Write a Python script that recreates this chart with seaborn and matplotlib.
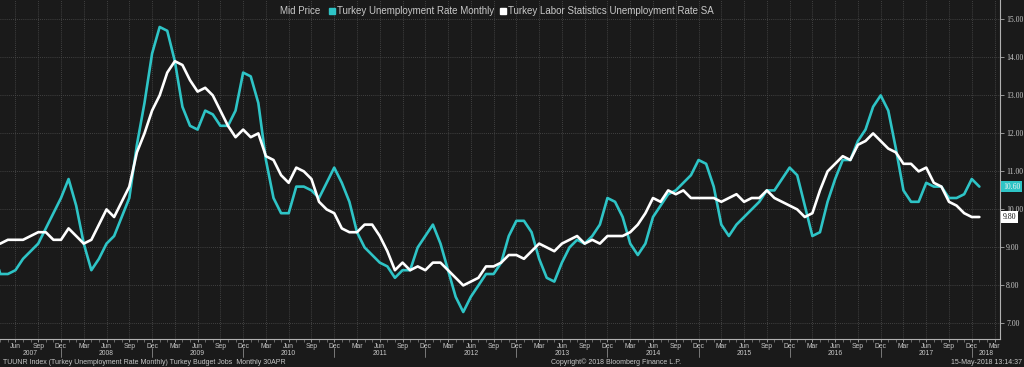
import numpy as np
import pandas as pd
import matplotlib
matplotlib.use("Agg")
import matplotlib.pyplot as plt
import matplotlib.transforms as mtransforms
from matplotlib.lines import Line2D
import seaborn as sns

# ---------------- data ----------------
first_month = "2007-03"
last_month = "2018-02"
series_names = ["Turkey Unemployment Rate Monthly",
                "Turkey Labor Statistics Unemployment Rate SA"]
unemp_monthly = [
    9.0, 8.3, 8.3, 8.4, 8.7, 8.9, 9.1, 9.5, 9.9, 10.3,
    10.8, 10.1, 9.1, 8.4, 8.7, 9.1, 9.3, 9.8, 10.3, 11.7, 12.8, 14.1,
    14.8, 14.7, 13.9, 12.7, 12.2, 12.1, 12.6, 12.5, 12.2, 12.2, 12.6, 13.6,
    13.5, 12.8, 11.3, 10.3, 9.9, 9.9, 10.6, 10.6, 10.5, 10.3, 10.7, 11.1,
    10.7, 10.2, 9.4, 9.0, 8.8, 8.6, 8.5, 8.2, 8.4, 8.4, 9.0, 9.3,
    9.6, 9.1, 8.4, 7.7, 7.3, 7.7, 8.0, 8.3, 8.3, 8.6, 9.3, 9.7,
    9.7, 9.4, 8.7, 8.2, 8.1, 8.6, 9.0, 9.2, 9.1, 9.3, 9.6, 10.3,
    10.2, 9.8, 9.1, 8.8, 9.1, 9.8, 10.1, 10.4, 10.5, 10.7, 10.9, 11.3,
    11.2, 10.6, 9.6, 9.3, 9.6, 9.8, 10.0, 10.2, 10.5, 10.5, 10.8, 11.1,
    10.9, 10.1, 9.3, 9.4, 10.2, 10.8, 11.3, 11.3, 11.8, 12.1, 12.7, 13.0,
    12.6, 11.6, 10.5, 10.2, 10.2, 10.7, 10.6, 10.6, 10.3, 10.3, 10.4, 10.8,
    10.6,
]
unemp_sa = [
    9.1, 9.1, 9.2, 9.2, 9.2, 9.3, 9.4, 9.4, 9.2, 9.2,
    9.5, 9.3, 9.1, 9.2, 9.6, 10.0, 9.8, 10.2, 10.6, 11.5, 12.0, 12.6,
    13.0, 13.6, 13.9, 13.8, 13.4, 13.1, 13.2, 13.0, 12.6, 12.2, 11.9, 12.1,
    11.9, 12.0, 11.4, 11.3, 10.9, 10.7, 11.1, 11.0, 10.8, 10.2, 10.0, 9.9,
    9.5, 9.4, 9.4, 9.6, 9.6, 9.3, 8.9, 8.4, 8.6, 8.4, 8.5, 8.4,
    8.6, 8.6, 8.4, 8.2, 8.0, 8.1, 8.2, 8.5, 8.5, 8.6, 8.8, 8.8,
    8.7, 8.9, 9.1, 9.0, 8.9, 9.1, 9.2, 9.3, 9.1, 9.2, 9.1, 9.3,
    9.3, 9.3, 9.4, 9.6, 9.9, 10.3, 10.2, 10.5, 10.4, 10.5, 10.3, 10.3,
    10.3, 10.3, 10.2, 10.3, 10.4, 10.2, 10.3, 10.3, 10.5, 10.3, 10.2, 10.1,
    10.0, 9.8, 9.9, 10.5, 11.0, 11.2, 11.4, 11.3, 11.7, 11.8, 12.0, 11.8,
    11.6, 11.5, 11.2, 11.2, 11.0, 11.1, 10.7, 10.6, 10.2, 10.1, 9.9, 9.8,
    9.8,
]
y_ticks = [7, 8, 9, 10, 11, 12, 13, 14, 15]
month_tick_names = {3: "Mar", 6: "Jun", 9: "Sep", 12: "Dec"}
years = list(range(2007, 2019))

# ---------------- build table ----------------
periods = pd.period_range(first_month, last_month, freq="M")
n = min(len(periods), len(unemp_monthly), len(unemp_sa))
periods = periods[:n]
midx = np.array([(p.year - 2007) * 12 + p.month - 1 for p in periods], dtype=float)
df = pd.DataFrame({
    "m": np.concatenate([midx, midx]),
    "value": np.concatenate([unemp_monthly[:n], unemp_sa[:n]]),
    "series": [series_names[0]] * n + [series_names[1]] * n,
})

BG = "#1a1a1a"
CYAN = "#2ec4c6"
WHITE = "#ffffff"
TXT = "#c8c8c8"
GRID = "#4e4e4e"

sns.set_theme(style="dark", rc={"axes.facecolor": BG, "figure.facecolor": BG})
plt.rcParams["font.family"] = ["Liberation Sans", "DejaVu Sans"]

W, H = 1024, 367
fig = plt.figure(figsize=(W / 100, H / 100), dpi=100, facecolor=BG)
plot_bottom_px = 339
plot_right_px = 1000
ax = fig.add_axes([0, (H - plot_bottom_px) / H, plot_right_px / W, plot_bottom_px / H])
ax.set_facecolor(BG)

sns.lineplot(data=df, x="m", y="value", hue="series", hue_order=series_names,
             palette={series_names[0]: CYAN, series_names[1]: WHITE},
             linewidth=1.9, legend=False, ax=ax, sort=False)

xmin, xmax = 2.964, 134.72
ax.set_xlim(xmin, xmax)
ax.set_ylim(6.59, 15.51)
ax.set_xlabel("")
ax.set_ylabel("")

# y axis on right
ax.yaxis.tick_right()
ax.set_yticks(y_ticks)
ax.set_yticklabels([f"{v:.2f}" for v in y_ticks])
ax.tick_params(axis="y", which="major", length=3, width=0.6, color="#aaaaaa",
               labelcolor=TXT, labelsize=5.6, pad=1.5, direction="out",
               right=True, left=False)
for lab in ax.get_yticklabels():
    lab.set_family(["Liberation Serif", "DejaVu Serif"])

# x axis month ticks
maj_pos, maj_lab, min_pos = [], [], []
for mm in range(int(np.ceil(xmin)), int(np.floor(xmax)) + 1):
    month = mm % 12 + 1
    min_pos.append(mm)
    if month in month_tick_names:
        maj_pos.append(mm)
        maj_lab.append(month_tick_names[month])
ax.set_xticks(maj_pos)
ax.set_xticklabels(maj_lab)
ax.set_xticks(min_pos, minor=True)
ax.tick_params(axis="x", which="major", length=2.5, width=0.6, color="#aaaaaa",
               labelcolor=TXT, labelsize=4.9, pad=0.5, direction="out", bottom=True)
ax.tick_params(axis="x", which="minor", length=2, width=0.5, color="#888888",
               direction="out", bottom=True)

ax.grid(True, which="major", axis="both", color=GRID, linestyle=(0, (1, 1.5)), linewidth=0.6)
for s in ["top", "left"]:
    ax.spines[s].set_visible(False)
for s in ["right", "bottom"]:
    ax.spines[s].set_visible(True)
    ax.spines[s].set_color("#b0b0b0")
    ax.spines[s].set_linewidth(0.8)

# year labels and separators
trans = ax.get_xaxis_transform()
def px_to_axes_y(px):
    return (plot_bottom_px - px) / plot_bottom_px
for yr in years:
    a = max((yr - 2007) * 12 - 1, xmin)
    b = min((yr - 2007) * 12 + 11, xmax)
    if b <= a:
        continue
    ax.text((a + b) / 2, px_to_axes_y(353.5), str(yr), transform=trans, ha="center",
            va="center", fontsize=4.9, color=TXT, clip_on=False)
    sep = (yr - 2007) * 12 - 1
    if xmin < sep < xmax:
        ax.plot([sep, sep], [px_to_axes_y(348), px_to_axes_y(357)], transform=trans,
                color="#888888", linewidth=0.6, clip_on=False)

# last value tags
btrans = mtransforms.blended_transform_factory(ax.transAxes, ax.transData)
ax.text(1.003, unemp_monthly[n - 1], f"{unemp_monthly[n - 1]:.2f}", transform=btrans,
        ha="left", va="center", fontsize=5.6, color="#f0f0f0",
        family=["Liberation Serif", "DejaVu Serif"], clip_on=False,
        bbox=dict(boxstyle="square,pad=0.2", fc=CYAN, ec="none"))
ax.text(1.003, unemp_sa[n - 1], f"{unemp_sa[n - 1]:.2f}", transform=btrans,
        ha="left", va="center", fontsize=5.6, color="#111111",
        family=["Liberation Serif", "DejaVu Serif"], clip_on=False,
        bbox=dict(boxstyle="square,pad=0.2", fc=WHITE, ec="none"))

# legend
fig.text(280 / W, 1 - 11 / H, "Mid Price", fontsize=7.0, color=TXT, ha="left", va="center")
handles = [Line2D([], [], linestyle="none", marker="s", markersize=5, color=CYAN),
           Line2D([], [], linestyle="none", marker="s", markersize=5, color=WHITE)]
leg = fig.legend(handles, series_names, loc="center left",
                 bbox_to_anchor=(329 / W, 1 - 11 / H), ncol=2, frameon=False,
                 fontsize=7.0, labelcolor=TXT, handlelength=0.6, handletextpad=0.25,
                 columnspacing=0.6, borderpad=0, borderaxespad=0)

# footer
fig.text(3 / W, 1 - 362.5 / H,
         "TUUNR Index (Turkey Unemployment Rate Monthly) Turkey Budget Jobs  Monthly 30APR",
         fontsize=5.0, color=TXT, ha="left", va="center")
fig.text(616 / W, 1 - 362.5 / H, "Copyright\u00a9 2018 Bloomberg Finance L.P.",
         fontsize=5.0, color=TXT, ha="center", va="center")
fig.text(1022 / W, 1 - 362.5 / H, "15-May-2018 13:14:37",
         fontsize=5.0, color=TXT, ha="right", va="center")

fig.savefig("out.png", dpi=100, facecolor=BG)
